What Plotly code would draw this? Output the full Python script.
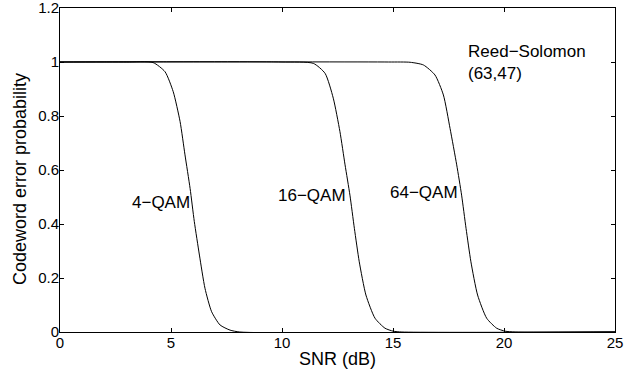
import plotly.graph_objects as go

# SNR (dB) and codeword error probability
snr_4qam = [0, 3.0, 4.19, 4.73, 5.10, 5.41, 5.63, 5.86, 6.05, 6.28, 6.53, 6.83, 7.21, 7.66, 8.1, 25]
pe_4qam = [1, 1, 0.998, 0.964, 0.89, 0.779, 0.656, 0.532, 0.409, 0.285, 0.162, 0.075, 0.026, 0.007, 0, 0]

snr_16qam = [0, 10.0, 11.41, 11.94, 12.31, 12.61, 12.84, 13.06, 13.26, 13.48, 13.78, 14.19, 14.64, 15.01, 15.4, 25]
pe_16qam = [1, 1, 0.995, 0.958, 0.866, 0.742, 0.619, 0.507, 0.384, 0.26, 0.137, 0.051, 0.014, 0.003, 0, 0]

snr_64qam = [0, 14.8, 15.77, 16.37, 16.89, 17.27, 17.57, 17.87, 18.09, 18.29, 18.51, 18.81, 19.22, 19.67, 20.05, 20.5, 25]
pe_64qam = [1, 1, 0.999, 0.989, 0.952, 0.878, 0.754, 0.619, 0.507, 0.384, 0.26, 0.137, 0.051, 0.014, 0.003, 0, 0]

x_ticks = [0, 5, 10, 15, 20, 25]
y_ticks = [0, 0.2, 0.4, 0.6, 0.8, 1, 1.2]
y_tick_labels = ["0", "0.2", "0.4", "0.6", "0.8", "1", "1.2"]

labels = ["4\u2212QAM", "16\u2212QAM", "64\u2212QAM"]
label_x = [5.95, 12.97, 18.0]
label_y = [0.48, 0.507, 0.518]

FONT = "Liberation Sans, Arial, Helvetica, sans-serif"

fig = go.Figure()
for xs, ys in [(snr_4qam, pe_4qam), (snr_16qam, pe_16qam), (snr_64qam, pe_64qam)]:
    fig.add_trace(go.Scatter(x=xs, y=ys, mode="lines",
                             line=dict(color="black", width=1, shape="spline", smoothing=0.6),
                             showlegend=False, hoverinfo="skip"))

for t, lx, ly in zip(labels, label_x, label_y):
    fig.add_annotation(x=lx, y=ly, text=t, showarrow=False, xanchor="right", yanchor="middle",
                       font=dict(size=17, color="black", family=FONT))

fig.add_annotation(x=18.29, y=1.0, text="Reed\u2212Solomon<br>(63,47)", showarrow=False,
                   xanchor="left", yanchor="middle", align="left",
                   font=dict(size=17, color="black", family=FONT))

# axis titles
fig.add_annotation(xref="paper", yref="paper", x=0.5, y=-27 / 324, text="SNR (dB)",
                   showarrow=False, xanchor="center", yanchor="middle",
                   font=dict(size=18, color="black", family=FONT))
fig.add_annotation(xref="paper", yref="paper", x=-40 / 555, y=(332 - 179) / 324,
                   text="Codeword error probability", textangle=-90,
                   showarrow=False, xanchor="center", yanchor="middle",
                   font=dict(size=18, color="black", family=FONT))

axis_common = dict(showline=True, linecolor="black", linewidth=1, mirror="ticks",
                   ticks="inside", ticklen=4, tickcolor="black", showgrid=False, zeroline=False,
                   automargin=False, ticklabeloverflow="allow",
                   tickfont=dict(size=15, color="black", family=FONT))

fig.update_xaxes(range=[0, 25], tickvals=x_ticks, ticktext=[str(v) for v in x_ticks],
                 ticklabelstandoff=-3, **axis_common)
fig.update_yaxes(range=[0, 1.2], tickvals=y_ticks, ticktext=y_tick_labels,
                 ticklabelstandoff=-3, **axis_common)

fig.update_layout(width=640, height=372, margin=dict(l=60, r=25, t=8, b=40),
                  plot_bgcolor="white", paper_bgcolor="white")

fig.write_html("out.html", config={"displayModeBar": False},
               post_script="document.body.style.margin='0';")
